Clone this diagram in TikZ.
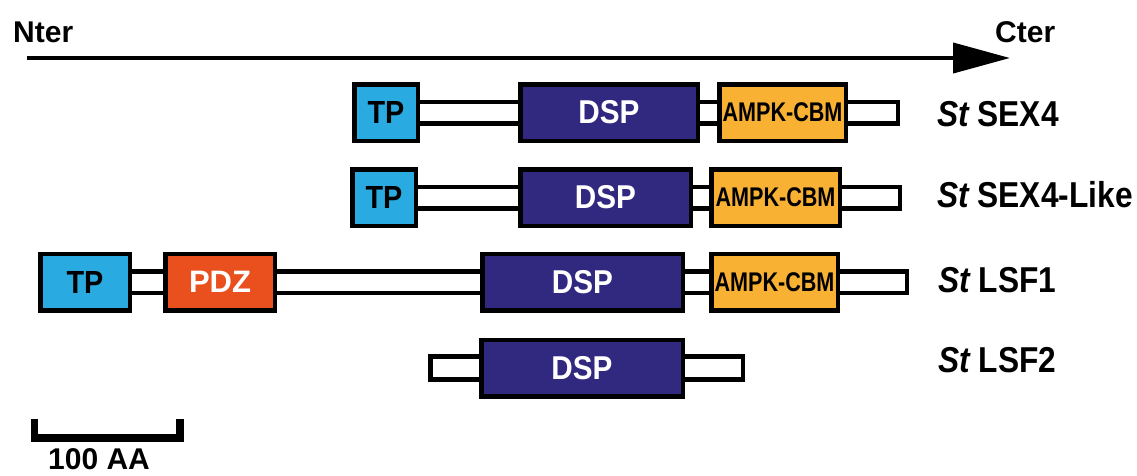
\documentclass[tikz,border=0pt]{standalone}
\usepackage{fontspec}
\setmainfont{Liberation Sans}
\newfontfamily\lblfont[FakeStretch=0.88]{Liberation Sans}
\newfontfamily\ampkfont[FakeStretch=0.8]{Liberation Sans}
\newfontfamily\domfont[FakeStretch=0.9]{Liberation Sans}
\usetikzlibrary{arrows.meta}
\definecolor{tpblue}{HTML}{29ABE2}
\definecolor{dspblue}{HTML}{31287F}
\definecolor{pdzred}{HTML}{E9501E}
\definecolor{ampkor}{HTML}{F8B133}
\begin{document}
\begin{tikzpicture}[x=1pt,y=-1pt,
  dom/.style={draw=black, line width=4.5pt, inner sep=0pt, minimum height=56.5pt},
  tpbox/.style={dom, fill=tpblue, text=black, font=\domfont\bfseries\fontsize{32}{32}\selectfont},
  dspbox/.style={dom, fill=dspblue, text=white, font=\domfont\bfseries\fontsize{33}{33}\selectfont},
  pdzbox/.style={dom, fill=pdzred, text=white, font=\bfseries\fontsize{31}{31}\selectfont},
  ampkbox/.style={dom, fill=ampkor, text=black, font=\ampkfont\bfseries\fontsize{27}{27}\selectfont},
  backbone/.style={draw=black, fill=white, line width=4.5pt},
  endlabel/.style={inner sep=0pt, anchor=base west, font=\bfseries\fontsize{30}{30}\selectfont},
  protlabel/.style={inner sep=0pt, anchor=west, font=\lblfont\bfseries\fontsize{36}{36}\selectfont}]
\useasboundingbox (0,0) rectangle (1137,475);

% N -> C axis
\node[endlabel] (nter) at (13,42) {Nter};
\node[endlabel] (cter) at (995,42) {Cter};
\coordinate (axs) at (27,58);
\coordinate (axe) at (1010,58);
\draw[line width=4pt, -{Triangle[length=57pt,width=30pt]}] (axs) -- (axe);

% backbones
\coordinate (s1a) at (386,112.5);   \coordinate (s1b) at (897.75,112.5);
\coordinate (s2a) at (384,197.5);   \coordinate (s2b) at (899.75,197.5);
\coordinate (l1a) at (85,282);      \coordinate (l1b) at (906.75,282);
\coordinate (l2a) at (430.25,368);  \coordinate (l2b) at (742.75,368);
\draw[backbone] ([yshift=10.75pt]s1a) rectangle ([yshift=-10.75pt]s1b);
\draw[backbone] ([yshift=10.75pt]s2a) rectangle ([yshift=-10.75pt]s2b);
\draw[backbone] ([yshift=10.75pt]l1a) rectangle ([yshift=-10.75pt]l1b);
\draw[backbone] ([yshift=11.5pt]l2a) rectangle ([yshift=-11.5pt]l2b);

% St SEX4
\node[tpbox, minimum width=63.5pt] (s1tp) at (s1a) {TP};
\node[dspbox, minimum width=177.5pt] (s1dsp) at (609,112.5) {DSP};
\node[ampkbox, minimum width=126.5pt] (s1cbm) at (782.5,112.5) {AMPK-CBM};

% St SEX4-Like
\node[tpbox, minimum width=63.5pt] (s2tp) at (s2a) {TP};
\node[dspbox, minimum width=170.5pt] (s2dsp) at (605.5,197.5) {DSP};
\node[ampkbox, minimum width=128.5pt] (s2cbm) at (775.5,197.5) {AMPK-CBM};

% St LSF1
\node[tpbox, minimum width=89.5pt] (l1tp) at (l1a) {TP};
\node[pdzbox, minimum width=109.5pt] (l1pdz) at (220,282) {PDZ};
\node[dspbox, minimum width=200.5pt] (l1dsp) at (582.5,282) {DSP};
\node[ampkbox, minimum width=126.5pt] (l1cbm) at (774.5,282) {AMPK-CBM};

% St LSF2
\node[dspbox, minimum width=201.5pt] (l2dsp) at (582,368) {DSP};

% labels
\node[protlabel] (lab1) at (937,114) {\itshape St\upshape{} SEX4};
\node[protlabel] (lab2) at (937,195) {\itshape St\upshape{} SEX4-Like};
\node[protlabel] (lab3) at (938,280) {\itshape St\upshape{} LSF1};
\node[protlabel] (lab4) at (938,360) {\itshape St\upshape{} LSF2};

% scale bar
\coordinate (sb1) at (34.5,419);
\coordinate (sb2) at (34.5,438);
\coordinate (sb3) at (180,438);
\coordinate (sb4) at (180,419);
\draw[line width=7.5pt] (sb1) -- (sb2) -- (sb3) -- (sb4);
\node[endlabel] (sblab) at (48,469.5) {100 AA};
\end{tikzpicture}
\end{document}
